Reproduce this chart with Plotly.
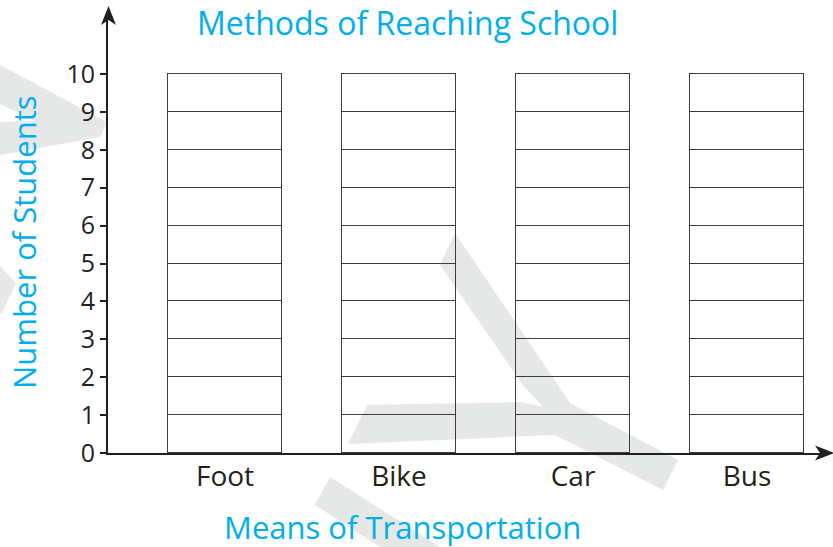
import plotly.graph_objects as go

# Chart data
categories = ["Foot", "Bike", "Car", "Bus"]
cells_per_bar = [10, 10, 10, 10]          # empty unit cells stacked in each column
y_ticks = [0, 1, 2, 3, 4, 5, 6, 7, 8, 9, 10]

title_text = "Methods of Reaching School"
x_title = "Means of Transportation"
y_title = "Number of Students"

# Canvas / plot geometry (pixels)
W, H = 833, 547
L, R, T, B = 108, 8, 15, 94
PW, PH = W - L - R, H - T - B

CYAN = "#00aeef"
INK = "#231f20"
CELL_LINE = "#3c3c3c"
WATERMARK = "#e6e7e7"


def px(x):
    return (x - L) / PW


def py(y):
    return (H - B - y) / PH


def poly(points):
    d = "M " + " L ".join(f"{px(a):.5f},{py(b):.5f}" for a, b in points) + " Z"
    return d


fig = go.Figure()

# one trace per stacked cell level
for level in range(max(cells_per_bar)):
    fig.add_trace(go.Bar(
        x=categories,
        y=[1 if level < c else 0 for c in cells_per_bar],
        width=0.655,
        marker=dict(color="rgba(0,0,0,0)", line=dict(color=CELL_LINE, width=1.2)),
        hoverinfo="skip",
        showlegend=False,
    ))

# faint background watermark strokes
watermark_shapes = [
    [(367, 405), (520, 402), (543, 407), (523, 385), (440, 265), (455, 233),
     (570, 403), (678, 460), (663, 490), (555, 435), (348, 444)],
    [(330, 477), (440, 547), (380, 547), (315, 505)],
    [(0, 65), (107, 122), (100, 137), (0, 155), (0, 122), (35, 121), (0, 104)],
    [(0, 266), (16, 283), (2, 313), (0, 313)],
]
shapes = []
for pts in watermark_shapes:
    shapes.append(dict(type="path", path=poly(pts), xref="paper", yref="paper",
                       fillcolor=WATERMARK, line=dict(width=0), layer="below"))

# arrow heads at the ends of both axes
shapes.append(dict(type="path", xref="paper", yref="paper", layer="above",
                   path=poly([(108.5, 6), (116, 25), (108.5, 20), (101, 25)]),
                   fillcolor=INK, line=dict(width=0)))
shapes.append(dict(type="path", xref="paper", yref="paper", layer="above",
                   path=poly([(834, 453), (815, 445.5), (820, 453), (815, 460.5)]),
                   fillcolor=INK, line=dict(width=0)))

annotations = [
    dict(text=title_text, x=px(407), y=py(22), xref="paper", yref="paper",
         showarrow=False, font=dict(family="Open Sans", size=32, color=CYAN),
         xanchor="center", yanchor="middle"),
    dict(text=x_title, x=px(402), y=py(527), xref="paper", yref="paper",
         showarrow=False, font=dict(family="Open Sans", size=31, color=CYAN),
         xanchor="center", yanchor="middle"),
    dict(text=y_title, x=px(24), y=py(242), xref="paper", yref="paper",
         showarrow=False, textangle=-90,
         font=dict(family="Open Sans", size=31, color=CYAN),
         xanchor="center", yanchor="middle"),
]

fig.update_layout(
    width=W, height=H,
    margin=dict(l=L, r=R, t=T, b=B),
    paper_bgcolor="white", plot_bgcolor="rgba(0,0,0,0)",
    barmode="stack", bargap=0,
    shapes=shapes, annotations=annotations,
    font=dict(family="Open Sans", color=INK),
)

fig.update_xaxes(
    range=[-0.6724, -0.6724 + PW / 174.0],
    showgrid=False, zeroline=False,
    showline=True, linecolor=INK, linewidth=2,
    ticks="", tickfont=dict(size=28, color=INK),
    ticklabelstandoff=-3,
)
fig.update_yaxes(
    range=[0, PH / 37.9],
    tickvals=y_ticks,
    showgrid=False, zeroline=False,
    showline=True, linecolor=INK, linewidth=2,
    ticks="outside", ticklen=6, tickwidth=1.5, tickcolor=INK,
    tickfont=dict(size=25, color=INK),
)

fig.write_html("out.html")
